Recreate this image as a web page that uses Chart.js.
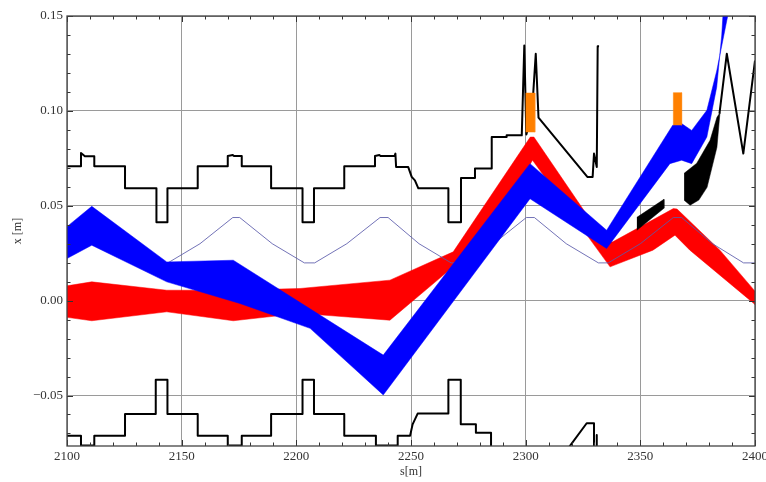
<!DOCTYPE html>
<html>
<head>
<meta charset="utf-8">
<script src="https://cdn.jsdelivr.net/npm/chart.js@4.4.1/dist/chart.umd.min.js"></script>
<style>
  html, body { margin: 0; padding: 0; background: #fff; }
  #wrap { width: 766px; height: 482px; }
</style>
</head>
<body>
<div id="wrap"><canvas id="myChart" width="766" height="482"></canvas></div>
<script>
// axis ticks
var xTicks = [2100, 2150, 2200, 2250, 2300, 2350, 2400];
var yTicks = [-0.05, 0, 0.05, 0.10, 0.15];

// aperture, upper side: [s, x]
var apUpper = [
    [2100, 0.0708], [2106.1, 0.0708], [2106.1, 0.0778], [2107.8, 0.0761], [2111.9, 0.0761], [2111.9, 0.0708],
    [2125.3, 0.0708], [2125.3, 0.0592], [2139, 0.0592], [2139, 0.0413], [2143.8, 0.0413], [2143.8, 0.0592],
    [2157, 0.0592], [2157, 0.0708], [2170.1, 0.0708], [2170.1, 0.0762], [2172.3, 0.0767], [2172.8, 0.0762],
    [2176.2, 0.0762], [2176.2, 0.0708], [2189, 0.0708], [2189, 0.0592], [2202.7, 0.0592], [2202.7, 0.0413],
    [2207.7, 0.0413], [2207.7, 0.0592], [2220.9, 0.0592], [2220.9, 0.0708], [2234.3, 0.0708], [2234.3, 0.0762],
    [2236.2, 0.0767], [2236.7, 0.0762], [2242.8, 0.0762], [2243.2, 0.0775], [2243.5, 0.0704], [2248.8, 0.0704],
    [2250.3, 0.0652], [2251.7, 0.0634], [2253.2, 0.0592], [2266.3, 0.0592], [2266.3, 0.0413], [2271.8, 0.0413],
    [2271.8, 0.0646], [2277.9, 0.0646], [2277.9, 0.0696], [2285.2, 0.0696], [2285.2, 0.0862], [2291.7, 0.0862],
    [2291.7, 0.0871], [2298.3, 0.0871], [2299.4, 0.1345], [2300.3, 0.0875], [2302.7, 0.098], [2304.4, 0.1301],
    [2305.6, 0.0964], [2326.9, 0.0652], [2329.2, 0.0652], [2329.8, 0.0775], [2331, 0.0704], [2331.4, 0.134],
    [2332, 0.134]
];
// aperture, lower side
var apLower = [
    [2100, -0.0712], [2106.1, -0.0712], [2106.1, -0.0763], [2111.9, -0.0763], [2111.9, -0.0712], [2125.3, -0.0712],
    [2125.3, -0.0598], [2138.7, -0.0598], [2138.7, -0.0417], [2143.8, -0.0417], [2143.8, -0.0598], [2157, -0.0598],
    [2157, -0.0712], [2170.1, -0.0712], [2170.1, -0.0763], [2176.2, -0.0763], [2176.2, -0.0712], [2189, -0.0712],
    [2189, -0.0598], [2202.7, -0.0598], [2202.7, -0.0417], [2207.7, -0.0417], [2207.7, -0.0598], [2220.9, -0.0598],
    [2220.9, -0.0712], [2234.7, -0.0712], [2234.7, -0.0763], [2244.2, -0.0763], [2244.2, -0.0712], [2249.6, -0.0712],
    [2250.7, -0.0652], [2252.9, -0.0595], [2266.3, -0.0595], [2266.3, -0.0417], [2271.7, -0.0417], [2271.7, -0.0652],
    [2278.3, -0.0652], [2278.3, -0.0696], [2284.9, -0.0696], [2284.9, -0.09], null,
    [2317.2, -0.08], [2326.6, -0.0646], [2329.8, -0.0646], [2329.8, -0.08], null,
    [2331, -0.0708], [2331, -0.08]
];
// aperture pieces near 2350-2400
var apZigzag = [[2384.5, 0.0985], [2387.7, 0.1301], [2394.9, 0.0775], [2400, 0.1265]];
var apWedgeTop = [[2348.5, 0.0439], [2360.3, 0.0534]];
var apWedgeBot = [[2348.5, 0.0371], [2360.3, 0.0487]];
var apHornTop = [[2369.1, 0.0671], [2374.6, 0.0724], [2380.4, 0.0845], [2383.4, 0.0966], [2384.7, 0.0990]];
var apHornBot = [[2369.1, 0.0529], [2371.7, 0.0503], [2375.5, 0.0530], [2379.1, 0.0597], [2383.4, 0.0808], [2384.7, 0.0987]];

// red beam envelope
var redTop = [
    [2100, 0.0078], [2110.8, 0.0099], [2143.5, 0.0055], [2172.5, 0.0055], [2201.6, 0.0064], [2240.8, 0.0108],
    [2268.4, 0.0257], [2302, 0.0862], [2303.6, 0.0862], [2335, 0.0305], [2338, 0.031], [2364.4, 0.0485],
    [2366, 0.0483], [2384.7, 0.0266], [2400, 0.005]
];
var redBot = [
    [2100, -0.0088], [2110.8, -0.0106], [2143.5, -0.0059], [2172.5, -0.0106], [2201.6, -0.0067], [2240.8, -0.0103],
    [2268.4, 0.0178], [2288, 0.0441], [2303, 0.074], [2336.8, 0.0178], [2355.5, 0.0266], [2365.1, 0.0345],
    [2371.6, 0.0266], [2400, -0.002]
];
// blue beam envelope
var blueTop = [
    [2100, 0.039], [2110.8, 0.0497], [2143.5, 0.0204], [2172.5, 0.0213], [2237.9, -0.0287], [2301.9, 0.0722],
    [2335.3, 0.0371], [2364.1, 0.0924], [2368, 0.0933], [2372.4, 0.0897], [2379, 0.1003], [2383.3, 0.121],
    [2387.7, 0.1476], [2389.1, 0.1555]
];
var blueBot = [
    [2100, 0.0222], [2110.8, 0.0292], [2143.5, 0.0099], [2175.4, -0.0015], [2206, -0.0146], [2237.9, -0.0497],
    [2301.9, 0.0537], [2335.3, 0.0275], [2362.9, 0.0722], [2368, 0.074], [2372.4, 0.0722], [2379, 0.0862],
    [2383.3, 0.1125], [2385.5, 0.14], [2386.5, 0.16]
];
// reference orbit (thin line)
var refOrbit = [
    [2100, 0.035], [2108, 0.0438], [2111.5, 0.0438], [2125.5, 0.030], [2139.5, 0.0199], [2144, 0.0199],
    [2158, 0.030], [2172.3, 0.0438], [2175.3, 0.0438], [2189.5, 0.030], [2203.5, 0.0199], [2208, 0.0199],
    [2222, 0.030], [2236.5, 0.0438], [2240, 0.0438], [2253.5, 0.030], [2267.5, 0.0199], [2272, 0.0199],
    [2286, 0.030], [2300.3, 0.0438], [2303.8, 0.0438], [2317.7, 0.030], [2331.7, 0.0199], [2336, 0.0199],
    [2350, 0.030], [2364.4, 0.0438], [2368, 0.0438], [2381.5, 0.030], [2395, 0.0199], [2400, 0.0199]
];
// orange markers: [s0, s1, x0, x1]
var marker1 = [2300.1, 2304, 0.0888, 0.1094];
var marker2 = [2364.4, 2368, 0.0924, 0.1096];

function pts(arr) {
    return arr.map(function(p) { return p ? {x: p[0], y: p[1]} : {x: NaN, y: null}; });
}
function shape(top, bot) {
    return pts(top.concat(bot.slice().reverse()));
}
function box(m) {
    return pts([[m[0], m[2]], [m[0], m[3]], [m[1], m[3]], [m[1], m[2]]]);
}
function filled(data, color) {
    return { data: data, borderColor: color, backgroundColor: color, borderWidth: 0.5, fill: 'shape', pointRadius: 0, clip: 0 };
}
function line(data, color, w) {
    return { data: data, borderColor: color, borderWidth: w, fill: false, pointRadius: 0, clip: 0, borderJoinStyle: 'round', spanGaps: false };
}

// frame with inward ticks, drawn from the scales
var framePlugin = {
    id: 'frame',
    afterDraw: function(chart) {
        var ctx = chart.ctx, a = chart.chartArea;
        var xs = chart.scales.x, ys = chart.scales.y;
        ctx.save();
        ctx.strokeStyle = '#333';
        ctx.lineWidth = 1;
        ctx.beginPath();
        for (var s = 2100; s <= 2400; s += 10) {
            var px = Math.round(xs.getPixelForValue(s)) + 0.5;
            var len = (s % 50 === 0) ? 6 : 3.5;
            ctx.moveTo(px, a.bottom); ctx.lineTo(px, a.bottom - len);
            ctx.moveTo(px, a.top); ctx.lineTo(px, a.top + len);
        }
        for (var i = -7; i <= 15; i++) {
            var v = i / 100;
            var py = Math.round(ys.getPixelForValue(v)) + 0.5;
            var l2 = (i % 5 === 0) ? 6 : 3.5;
            ctx.moveTo(a.left, py); ctx.lineTo(a.left + l2, py);
            ctx.moveTo(a.right, py); ctx.lineTo(a.right - l2, py);
        }
        ctx.stroke();
        ctx.strokeStyle = '#444';
        ctx.lineWidth = 1.3;
        ctx.strokeRect(a.left, a.top, a.right - a.left, a.bottom - a.top);
        ctx.restore();
    }
};

Chart.defaults.font.family = "'Liberation Serif', 'DejaVu Serif', serif";
Chart.defaults.font.size = 13;
Chart.defaults.color = '#333';

var ctx = document.getElementById('myChart');

var myChart = new Chart(ctx, {
    type: 'line',
    data: {
        datasets: [
            filled(box(marker1), 'rgb(255,128,0)'),
            filled(box(marker2), 'rgb(255,128,0)'),
            line(pts(apUpper), '#000', 2),
            line(pts(apLower), '#000', 2),
            line(pts(apZigzag), '#000', 2),
            filled(shape(apWedgeTop, apWedgeBot), '#000'),
            filled(shape(apHornTop, apHornBot), '#000'),
            filled(shape(blueTop, blueBot), 'rgb(0,0,255)'),
            line(pts(refOrbit), 'rgba(90,90,170,0.85)', 1),
            filled(shape(redTop, redBot), 'rgb(255,0,0)')
        ]
    },
    options: {
        responsive: false,
        animation: false,
        events: [],
        layout: { padding: { top: 16, right: 11, left: 0, bottom: 0 } },
        plugins: { legend: { display: false }, tooltip: { enabled: false } },
        scales: {
            x: {
                type: 'linear',
                min: 2100,
                max: 2400,
                afterBuildTicks: function(s) { s.ticks = xTicks.map(function(v) { return {value: v}; }); },
                afterFit: function(s) { s.height = 36; s.paddingLeft = 0; s.paddingRight = 0; },
                ticks: { padding: 3, autoSkip: false, maxRotation: 0, callback: function(v) { return String(v); } },
                grid: { color: '#9a9a9a', drawTicks: false, lineWidth: 1 },
                border: { display: false },
                title: { display: true, text: 's[m]', font: { size: 12 }, padding: { top: 2.8, bottom: 2.8 } }
            },
            y: {
                type: 'linear',
                min: -0.0766,
                max: 0.15,
                afterBuildTicks: function(s) { s.ticks = yTicks.map(function(v) { return {value: v}; }); },
                afterFit: function(s) { s.width = 67; s.paddingTop = 0; s.paddingBottom = 0; },
                ticks: {
                    padding: 4,
                    callback: function(v) { return (v < -1e-9 ? '\u2212' : '') + Math.abs(v).toFixed(2); }
                },
                grid: { color: '#9a9a9a', drawTicks: false, lineWidth: 1 },
                border: { display: false },
                title: { display: true, text: 'x [m]', font: { size: 12 }, padding: { top: 10.8, bottom: 10.8 } }
            }
        }
    },
    plugins: [framePlugin]
});
</script>
</body>
</html>
